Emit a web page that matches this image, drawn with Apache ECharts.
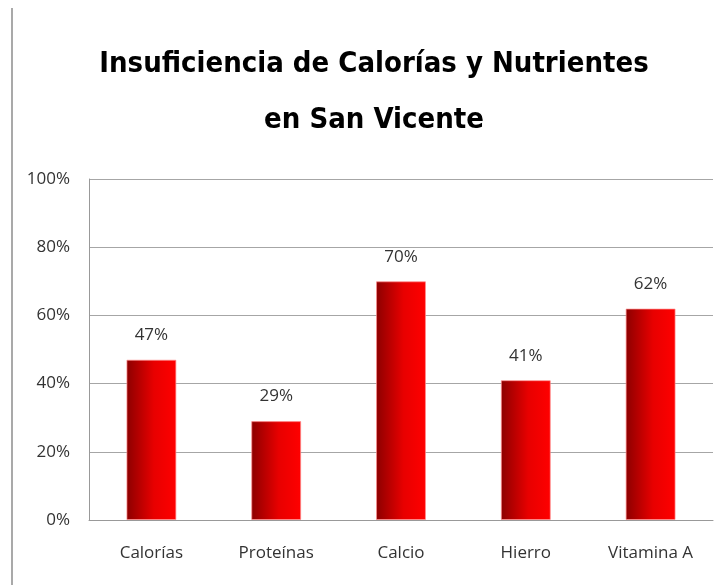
<!DOCTYPE html>
<html>
<head>
<meta charset="utf-8">
<script src="https://cdn.jsdelivr.net/npm/echarts@6/dist/echarts.min.js"></script>
<style>
  html, body { margin: 0; padding: 0; background: #fff; }
  #chart { width: 722px; height: 585px; }
</style>
</head>
<body>
<div id="chart"></div>
<script>
const categories = ['Calorías', 'Proteínas', 'Calcio', 'Hierro', 'Vitamina A']
const insuficiencia = [47, 29, 70, 41, 62]
const yTicks = [0, 20, 40, 60, 80, 100]

const font = '"Open Sans", sans-serif'
const titleFont = '"DejaVu Sans Condensed", Roboto, sans-serif'

// fit the first title line to the width it has in the picture
const ctx = document.createElement('canvas').getContext('2d')
ctx.font = 'bold 36px ' + titleFont
const w = ctx.measureText('Insuficiencia de Calorías y Nutrientes').width
const titleSize = Math.min(38, Math.round(36 * 551 / w))

const chart = echarts.init(document.getElementById('chart'))
const option = {
  animation: false,
  title: {
    text: 'Insuficiencia de Calorías y Nutrientes\nen San Vicente',
    left: 369,
    top: 31,
    textAlign: 'center',
    textStyle: {
      fontFamily: titleFont,
      fontWeight: 'bold',
      fontSize: titleSize,
      lineHeight: 56,
      color: '#000'
    }
  },
  graphic: [
    {
      type: 'line',
      shape: { x1: 12, y1: 8, x2: 12, y2: 585 },
      style: { stroke: '#8c8c8c', lineWidth: 1.5 }
    }
  ],
  grid: { left: 89, right: 9, top: 179, bottom: 65 },
  xAxis: {
    type: 'category',
    data: categories,
    axisLine: { show: true, lineStyle: { color: '#999' } },
    axisTick: { show: false },
    axisLabel: {
      margin: 25,
      fontFamily: font,
      fontSize: 17,
      color: '#333'
    }
  },
  yAxis: {
    type: 'value',
    min: yTicks[0],
    max: yTicks[yTicks.length - 1],
    interval: 20,
    axisLine: { show: true, lineStyle: { color: '#999' } },
    axisTick: { show: false },
    splitLine: { lineStyle: { color: '#a6a6a6', width: 1 } },
    axisLabel: {
      margin: 19,
      fontFamily: font,
      fontSize: 17,
      color: '#333',
      formatter: '{value}%'
    }
  },
  series: [
    {
      type: 'bar',
      data: insuficiencia,
      barWidth: '40%',
      itemStyle: {
        color: new echarts.graphic.LinearGradient(0, 0, 1, 0, [
          { offset: 0, color: '#8c0000' },
          { offset: 0.55, color: '#e80000' },
          { offset: 1, color: '#ff0000' }
        ]),
        borderColor: 'rgba(255,140,140,0.7)',
        borderWidth: 1
      },
      label: {
        show: true,
        position: 'top',
        distance: 16,
        formatter: '{c}%',
        fontFamily: font,
        fontSize: 17,
        color: '#333'
      }
    }
  ]
}
chart.setOption(option)
</script>
</body>
</html>
